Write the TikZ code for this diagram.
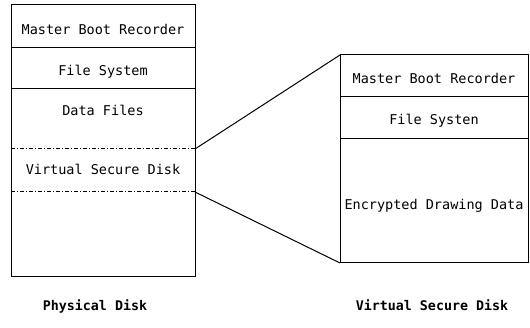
\documentclass[tikz,border=0pt]{standalone}
\usepackage{fontspec}
\setmonofont{DejaVu Sans Mono}
\begin{document}
\begin{tikzpicture}[x=1pt,y=-1pt,
  sect/.style={draw, line width=1pt, inner sep=0pt, outer sep=0pt},
  lbl/.style={font=\ttfamily\fontsize{13.5}{14}\selectfont, inner sep=0pt, text height=9.8pt, text depth=0pt, anchor=center},
  captext/.style={font=\ttfamily\bfseries\fontsize{13.3}{14}\selectfont, inner sep=0pt, text height=9.8pt, text depth=0pt, anchor=center},
  vsdline/.style={line width=1pt, dash pattern=on 4pt off 2pt on 1pt off 2pt},
  link/.style={line width=1pt}]
\useasboundingbox (0,0) rectangle (530,328);

% physical disk column
\node[sect, minimum width=184pt, minimum height=43pt] (mbrA) at (103,26.5) {};
\node[sect, minimum width=184pt, minimum height=41pt] (fsA) at (103,68.5) {};
\node[sect, minimum width=184pt, minimum height=188pt] (restA) at (103,183) {};
\node[lbl] (tMbrA) at (103,30) {Master Boot Recorder};
\node[lbl] (tFsA) at (103,71) {File System};
\node[lbl] (tData) at (103,111) {Data Files};
\node[lbl] (tVsd) at (103,170) {Virtual Secure Disk};

% virtual secure disk region boundaries
\coordinate (vL1) at (11,149);
\coordinate (vR1) at (195,149);
\coordinate (vL2) at (11,192);
\coordinate (vR2) at (195,192);
\draw[vsdline] (vL1) -- (vR1);
\draw[vsdline] (vL2) -- (vR2);

% virtual secure disk column
\node[sect, minimum width=188pt, minimum height=42pt] (mbrB) at (434,76) {};
\node[sect, minimum width=188pt, minimum height=42pt] (fsB) at (434,118) {};
\node[sect, minimum width=188pt, minimum height=124pt] (edd) at (434,201) {};
\node[lbl] (tMbrB) at (434,79) {Master Boot Recorder};
\node[lbl] (tFsB) at (434,120) {File Systen};
\node[lbl] (tEdd) at (434,204.5) {Encrypted Drawing Data};

% zoom lines
\draw[link] (vR1) -- (mbrB.north west);
\draw[link] (vR2) -- (edd.south west);

% captions
\node[captext] (capA) at (95,306) {Physical Disk};
\node[captext] (capB) at (432,306) {Virtual Secure Disk};
\end{tikzpicture}
\end{document}
